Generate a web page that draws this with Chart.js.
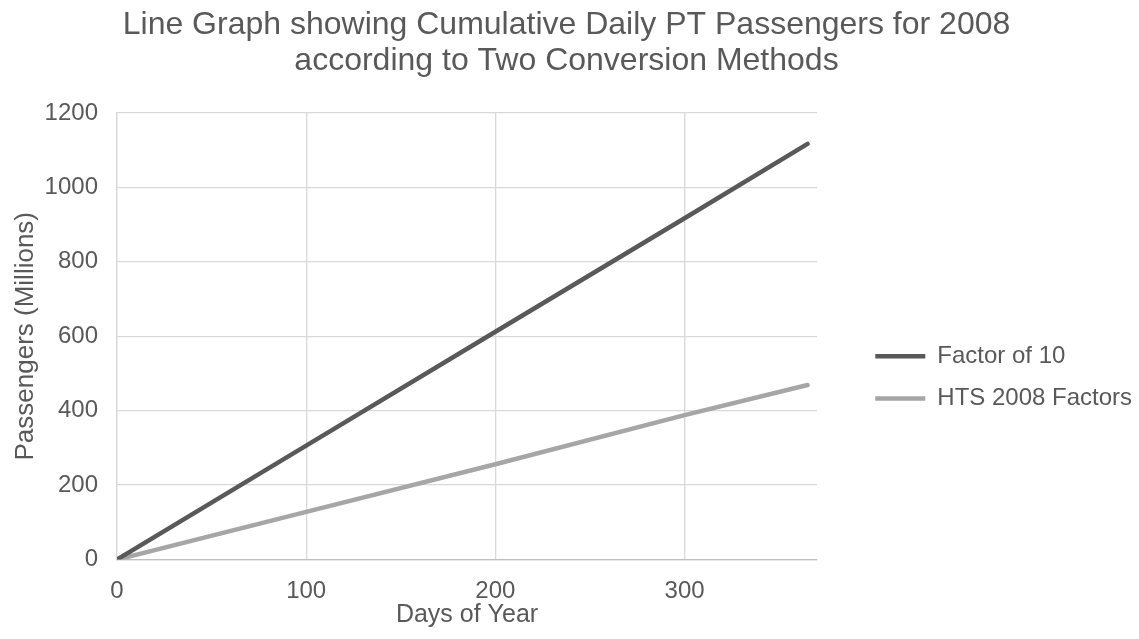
<!DOCTYPE html>
<html>
<head>
<meta charset="utf-8">
<script src="https://cdn.jsdelivr.net/npm/chart.js@4.4.0/dist/chart.umd.min.js"></script>
<style>
  html, body { margin: 0; padding: 0; background: #ffffff; }
  #wrap { width: 1139px; height: 639px; position: relative; }
</style>
</head>
<body>
<div id="wrap"><canvas id="ptChart"></canvas></div>
<script>
// values
const days = [1, 100, 200, 300, 365];
const factorOf10 = [3, 306, 612, 917, 1117];
const hts2008 = [1, 128, 256, 388, 469];
const seriesNames = ['Factor of 10', 'HTS 2008 Factors'];
const xTicks = [0, 100, 200, 300];
const yTicks = [0, 200, 400, 600, 800, 1000, 1200];

const TEXT = '#595959';
const FONT = "'Liberation Sans', Arial, sans-serif";

function toPoints(ys) {
    return days.map((d, i) => ({ x: d, y: ys[i] }));
}

// legend sits lower than the middle of the plot in the original
const legendDrop = {
    id: 'legendDrop',
    afterLayout(chart) {
        const lg = chart.legend;
        if (!lg) return;
        lg.top = chart.chartArea.top + 213;
    }
};

new Chart(document.getElementById('ptChart'), {
    type: 'line',
    data: {
        datasets: [
            {
                label: seriesNames[0],
                data: toPoints(factorOf10),
                borderColor: '#595959',
                backgroundColor: '#595959',
                borderWidth: 4.5,
                borderCapStyle: 'round',
                pointRadius: 0,
                tension: 0
            },
            {
                label: seriesNames[1],
                data: toPoints(hts2008),
                borderColor: '#a6a6a6',
                backgroundColor: '#a6a6a6',
                borderWidth: 4.5,
                borderCapStyle: 'round',
                pointRadius: 0,
                tension: 0
            }
        ]
    },
    options: {
        responsive: true,
        maintainAspectRatio: false,
        animation: false,
        layout: { padding: { left: 0, right: 6, top: 0, bottom: 0 } },
        plugins: {
            title: {
                display: true,
                text: ['Line Graph showing Cumulative Daily PT Passengers for 2008',
                       'according to Two Conversion Methods'],
                color: TEXT,
                font: { family: FONT, size: 32, weight: 'normal', lineHeight: 1.125 },
                padding: { top: 7, bottom: 34 }
            },
            legend: {
                position: 'right',
                align: 'start',
                maxWidth: 276,
                labels: {
                    color: TEXT,
                    font: { family: FONT, size: 24 },
                    usePointStyle: true,
                    pointStyle: 'line',
                    pointStyleWidth: 50,
                    padding: 18.3
                }
            },
            tooltip: { enabled: false }
        },
        scales: {
            x: {
                type: 'linear',
                min: 0,
                max: 370,
                afterBuildTicks: (scale) => {
                    scale.ticks = xTicks.map(v => ({ value: v }));
                },
                afterFit: (scale) => { scale.height = 79.5; },
                grid: { color: '#d9d9d9', lineWidth: 1.3, drawTicks: false },
                border: { color: '#bfbfbf', width: 1.3 },
                ticks: {
                    color: TEXT,
                    font: { family: FONT, size: 24 },
                    padding: 17,
                    callback: (v) => String(v)
                },
                title: {
                    display: true,
                    text: 'Days of Year',
                    color: TEXT,
                    font: { family: FONT, size: 25 },
                    padding: { top: 0, bottom: 9 }
                }
            },
            y: {
                min: 0,
                max: 1200,
                afterBuildTicks: (scale) => {
                    scale.ticks = yTicks.map(v => ({ value: v }));
                },
                afterFit: (scale) => { scale.width = 117; },
                grid: { color: '#d9d9d9', lineWidth: 1.3, drawTicks: false },
                border: { color: '#d9d9d9', width: 1.3 },
                ticks: {
                    color: TEXT,
                    font: { family: FONT, size: 24 },
                    padding: 19,
                    callback: (v) => String(v)
                },
                title: {
                    display: true,
                    text: 'Passengers (Millions)',
                    color: TEXT,
                    font: { family: FONT, size: 26 },
                    padding: { top: 10.4, bottom: 0 }
                }
            },
            // empty axis: only keeps the gap between plot and legend
            gap: {
                type: 'linear',
                position: 'right',
                display: true,
                afterFit: (scale) => { scale.width = 40; },
                grid: { display: false },
                border: { display: false },
                ticks: { display: false }
            }
        }
    },
    plugins: [legendDrop]
});
</script>
</body>
</html>
